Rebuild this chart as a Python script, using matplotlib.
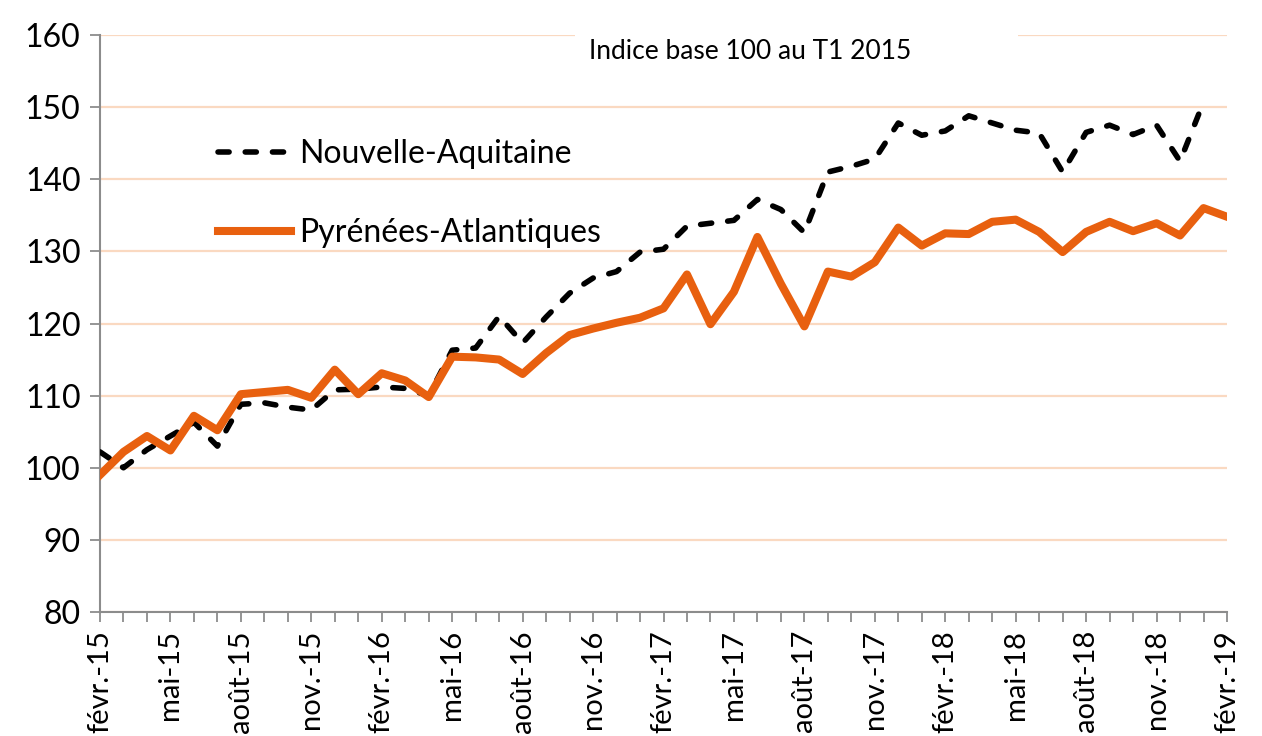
import numpy as np
import matplotlib
matplotlib.use("Agg")
import matplotlib.pyplot as plt
from matplotlib.patches import Rectangle

plt.rcParams['font.family'] = ['Lato', 'DejaVu Sans']

# Monthly index, févr. 2015 -> févr. 2019 (49 months)
tick_labels = ["févr.-15", "mai-15", "août-15", "nov.-15",
               "févr.-16", "mai-16", "août-16", "nov.-16",
               "févr.-17", "mai-17", "août-17", "nov.-17",
               "févr.-18", "mai-18", "août-18", "nov.-18",
               "févr.-19"]

nouvelle_aquitaine = [102.2, 100.0, 102.5, 104.4, 106.3, 103.0, 108.8, 109.0, 108.4, 108.0,
                      110.8, 110.9, 111.2, 111.0, 110.0, 116.3, 116.6, 121.0, 117.3, 120.9,
                      124.2, 126.3, 127.2, 129.9, 130.3, 133.5, 133.9, 134.3, 137.2, 135.8,
                      132.6, 141.0, 141.8, 142.8, 147.8, 146.1, 146.7, 148.8, 147.8, 146.8,
                      146.4, 141.0, 146.5, 147.5, 146.2, 147.5, 142.5, 150.7, np.nan]

pyrenees_atlantiques = [99.0, 102.2, 104.4, 102.4, 107.2, 105.2, 110.2, 110.5, 110.8, 109.7,
                        113.6, 110.2, 113.1, 112.1, 109.8, 115.4, 115.3, 115.0, 113.0, 115.9,
                        118.4, 119.3, 120.1, 120.8, 122.1, 126.8, 119.9, 124.4, 132.0, 125.5,
                        119.6, 127.2, 126.5, 128.5, 133.3, 130.8, 132.5, 132.4, 134.1, 134.4,
                        132.7, 129.9, 132.7, 134.1, 132.8, 133.9, 132.2, 136.0, 134.8]

title_text = "Indice base 100 au T1 2015"

W, H = 1262, 736
fig = plt.figure(figsize=(W / 100, H / 100), dpi=100)
ax = fig.add_axes([100 / W, 1 - 612 / H, 1127 / W, 577 / H])

x = np.arange(len(pyrenees_atlantiques))
orange = '#E8600F'
grey = '#8C8C8C'

ax.plot(x, nouvelle_aquitaine, color='black', lw=4.0, dashes=(2.0, 2.9),
        dash_capstyle='round', label='Nouvelle-Aquitaine', zorder=3)
ax.plot(x, pyrenees_atlantiques, color=orange, lw=5.8,
        label='Pyrénées-Atlantiques', zorder=4)

ax.set_xlim(0, len(x) - 1)
ax.set_ylim(80, 160)
ax.set_yticks(np.arange(80, 161, 10))
ax.set_xticks(np.arange(0, len(x), 3))
ax.set_xticklabels(tick_labels, rotation=90)
ax.set_xticks(np.arange(len(x)), minor=True)

ax.yaxis.grid(True, color='#FAD9C1', lw=1.6)
ax.set_axisbelow(True)

for s in ['top', 'right']:
    ax.spines[s].set_visible(False)
for s in ['left', 'bottom']:
    ax.spines[s].set_color(grey)
    ax.spines[s].set_linewidth(1.5)

ax.tick_params(axis='both', which='both', direction='out', length=7, width=1.3,
               color=grey, labelcolor='black')
ax.tick_params(axis='y', labelsize=23, pad=7)
ax.tick_params(axis='x', labelsize=21, pad=6)

# title box
ax.add_patch(Rectangle((0.4215, 0.93), 0.393, 0.09, transform=ax.transAxes,
                       facecolor='white', edgecolor='none', clip_on=False, zorder=2))
ax.text(0.5768, 0.972, title_text, transform=ax.transAxes, ha='center', va='center',
        fontsize=19, zorder=5)

ax.legend(loc='upper left', bbox_to_anchor=(0.1047, 0.82), frameon=False,
          fontsize=23, handlelength=2.3, handletextpad=0.25, labelspacing=1.55,
          borderaxespad=0, borderpad=0)

fig.savefig('out.png', dpi=100)
